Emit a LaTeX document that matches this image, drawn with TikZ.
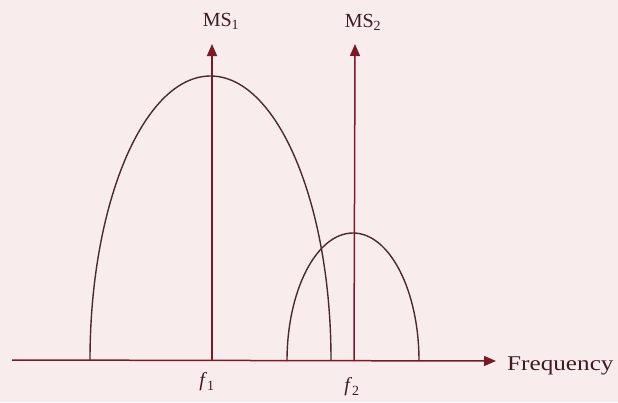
\documentclass[tikz,border=0pt]{standalone}
\usepackage{fontspec}
\setmainfont{Liberation Serif}
\usetikzlibrary{arrows.meta}
\definecolor{paper}{HTML}{F8EDEC}
\definecolor{ink}{HTML}{7A1A26}
\definecolor{arch}{HTML}{4A2A2C}
\definecolor{txt}{HTML}{3E1A28}
\begin{document}
\begin{tikzpicture}[x=1pt,y=-1pt,
  axisline/.style={draw=ink,line width=1.5pt,-{Triangle[length=12pt,width=10pt]}},
  spike/.style={draw=ink,line width=1.5pt,-{Triangle[length=12pt,width=10pt]}},
  archline/.style={draw=arch,line width=1.4pt},
  lab/.style={text=txt,font=\fontsize{20}{20}\selectfont,inner sep=0pt}]
\fill[paper] (0,0) rectangle (618,402);
\useasboundingbox (0,0) rectangle (618,402);
% coordinates
\coordinate (a0) at (12,360);
\coordinate (a1) at (496,361);
\coordinate (b1) at (212,360);
\coordinate (t1) at (212,44);
\coordinate (b2) at (354,361);
\coordinate (t2) at (355,44);
% arches
\draw[archline] (90,360) arc[start angle=180,end angle=0,x radius=120.5,y radius=-284];
\draw[archline] (287,361) arc[start angle=180,end angle=0,x radius=66,y radius=-128];
% axis and spikes
\draw[axisline] (a0) -- (a1);
\draw[spike] (b1) -- (t1);
\draw[spike] (b2) -- (t2);
% labels
\node[lab,anchor=west] (freq) at (507,366) {\fontsize{21}{21}\selectfont\scalebox{1.2}[1]{Frequency}};
\node[lab] (ms1) at (221,21) {MS\textsubscript{1}};
\node[lab] (ms2) at (363,22) {MS\textsubscript{2}};
\node[lab] (f1) at (207,382) {\textit{f}\textsubscript{1}};
\node[lab] (f2) at (352,387) {\textit{f}\textsubscript{2}};
\end{tikzpicture}
\end{document}
